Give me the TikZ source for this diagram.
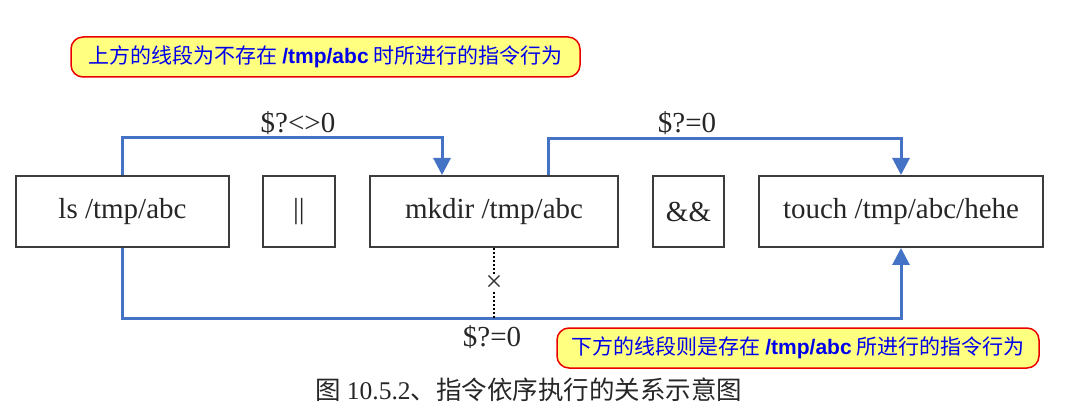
\documentclass[tikz,border=0pt]{standalone}
\usepackage{fontspec}
\setmainfont{Liberation Serif}
\setsansfont{Liberation Sans}
\newfontfamily\cjk{Noto Sans CJK SC}
\usetikzlibrary{arrows.meta, positioning}
\definecolor{flowblue}{RGB}{68, 114, 196}
\definecolor{noteyellow}{RGB}{255, 255, 128}
\definecolor{notered}{RGB}{235, 0, 0}
\definecolor{noteblue}{RGB}{0, 0, 235}
\definecolor{boxgray}{RGB}{60, 60, 60}

\tikzset{
  cmdbox/.style={draw=boxgray, line width=2pt, fill=white, minimum height=71pt, inner sep=0pt, text=black!85, font=\fontsize{29}{34}\selectfont},
  flow/.style={draw=flowblue, line width=3pt, -{Triangle[width=17pt, length=17pt]}},
  note/.style={draw=notered, line width=1.5pt, fill=noteyellow, rounded corners=12pt, minimum height=40pt, inner sep=0pt, text=noteblue, font=\fontsize{21}{24}\selectfont\cjk},
  cond/.style={inner sep=0pt, text=black!85, font=\fontsize{29}{34}\selectfont},
}

\begin{document}
\begin{tikzpicture}[x=1pt, y=-1pt]
  \useasboundingbox (0,0) rectangle (1074,414);

  % Commands and operators
  \node[cmdbox, minimum width=213pt] (ls) at (122.5, 211.5) {ls /tmp/abc};
  \node[cmdbox, minimum width=72pt] (orop) at (299, 211.5) {||};
  \node[cmdbox, minimum width=248pt] (mkdir) at (494, 211.5) {mkdir /tmp/abc};
  \node[cmdbox, minimum width=71pt] (andop) at (688.5, 211.5) {\&\&};
  \node[cmdbox, minimum width=284pt] (touch) at (901, 211.5) {touch /tmp/abc/hehe};

  % Upper paths
  \draw[flow] (ls.north) -- ++(0,-37) -| ([xshift=-52pt]mkdir.north);
  \node[cond] (neq) at (298, 123) {\$?<>0};
  \draw[flow] ([xshift=54pt]mkdir.north) -- ++(0,-36) -| (touch.north);
  \node[cond] (eqtop) at (687, 123) {\$?=0};

  % Lower path
  \coordinate (join) at (494, 318);
  \draw[flow] (ls.south) |- (join) -| (touch.south);
  \draw[line width=1.8pt, dash pattern=on 2pt off 2pt] (mkdir.south) -- (join)
    node[pos=0.5, fill=white, inner sep=0.5pt, text=black!80, font=\fontsize{30}{30}\selectfont] (cross) {×};
  \node[cond] (eqbot) at (492, 337) {\$?=0};

  % Notes
  \node[note, minimum width=509pt] (topnote) at (325.5, 57) {上方的线段为不存在 {\sffamily\bfseries /tmp/abc} 时所进行的指令行为};
  \node[note, minimum width=482pt] (botnote) at (798, 348) {下方的线段则是存在 {\sffamily\bfseries /tmp/abc} 所进行的指令行为};

  % Caption
  \node[inner sep=0pt, text=black!85, font=\fontsize{25.5}{28}\selectfont\cjk] (caption) at (529, 390) {图 {\rmfamily 10.5.2}、指令依序执行的关系示意图};
\end{tikzpicture}
\end{document}
